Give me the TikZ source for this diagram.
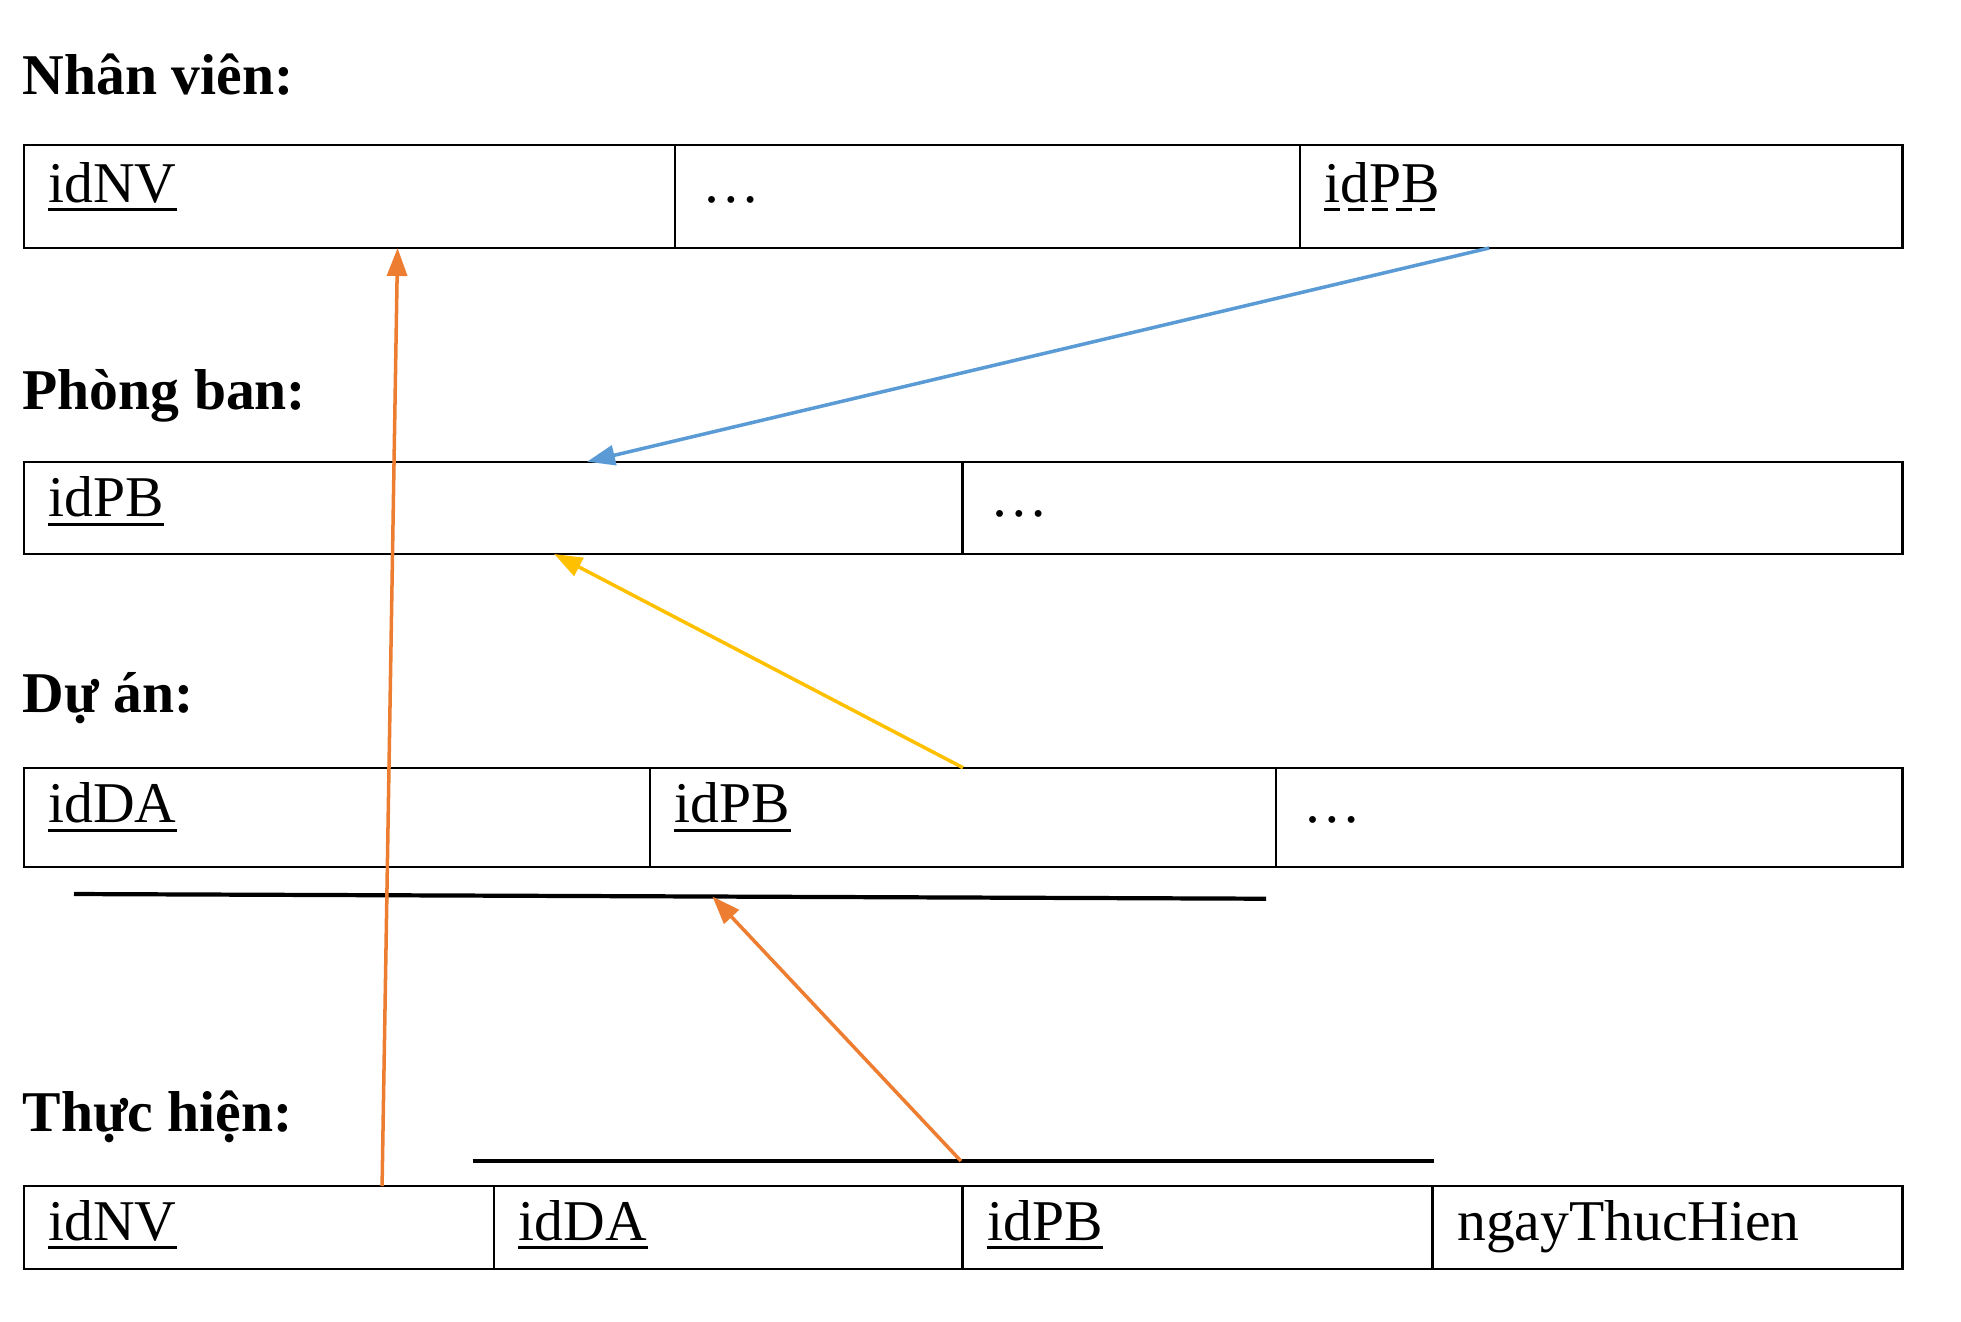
\documentclass[tikz,border=0pt]{standalone}
\usepackage{fontspec}
\setmainfont{Liberation Serif}
\usetikzlibrary{arrows.meta,calc}
\definecolor{fkblue}{HTML}{5B9BD5}
\definecolor{fkgold}{HTML}{FFC000}
\definecolor{fkorange}{HTML}{ED7D31}
\tikzset{
 cell/.style={draw, line width=0.65pt, anchor=north west, inner sep=0pt, outer sep=0pt},
 field/.style={anchor=base west, inner sep=0pt},
 title/.style={anchor=base west, inner sep=0pt, font=\fontsize{16.4}{20}\selectfont\bfseries},
 keyline/.style={line width=0.8pt},
 fk/.style={line width=1pt, -{Triangle[length=0.28cm, width=0.2cm]}},
 bar/.style={line width=1.2pt}
}
\begin{document}
\begin{tikzpicture}[font=\fontsize{16.4}{20}\selectfont]
 \useasboundingbox (0,0) rectangle (19.61,-13.21) ;

 \node[title] (nvtitle) at (0.22,-0.94) {Nhân viên:} ;
 \node[cell, minimum width=6.5125cm, minimum height=1.03cm] (nv1) at (0.2375,-1.45) {} ;
 \node[cell, minimum width=6.25cm, minimum height=1.03cm] (nv2) at (nv1.north east) {} ;
 \node[cell, minimum width=6.025cm, minimum height=1.03cm] (nv3) at (nv2.north east) {} ;
 \node[field] (nv1t) at ([xshift=0.24cm, yshift=-0.57cm] nv1.north west) {idNV} ;
 \node[field] (nv2t) at ([xshift=0.27cm, yshift=-0.57cm] nv2.north west) {\ldots} ;
 \node[field] (nv3t) at ([xshift=0.24cm, yshift=-0.57cm] nv3.north west) {idPB} ;

 \node[title] (pbtitle) at (0.22,-4.09) {Phòng ban:} ;
 \node[cell, minimum width=9.3875cm, minimum height=0.923cm] (pb1) at (0.2375,-4.617) {} ;
 \node[cell, minimum width=9.40cm, minimum height=0.923cm] (pb2) at (pb1.north east) {} ;
 \node[field] (pb1t) at ([xshift=0.24cm, yshift=-0.55cm] pb1.north west) {idPB} ;
 \node[field] (pb2t) at ([xshift=0.27cm, yshift=-0.55cm] pb2.north west) {\ldots} ;

 \node[title] (datitle) at (0.22,-7.125) {Dự án:} ;
 \node[cell, minimum width=6.2625cm, minimum height=0.99cm] (da1) at (0.2375,-7.677) {} ;
 \node[cell, minimum width=6.26cm, minimum height=0.99cm] (da2) at (da1.north east) {} ;
 \node[cell, minimum width=6.265cm, minimum height=0.99cm] (da3) at (da2.north east) {} ;
 \node[field] (da1t) at ([xshift=0.24cm, yshift=-0.55cm] da1.north west) {idDA} ;
 \node[field] (da2t) at ([xshift=0.24cm, yshift=-0.55cm] da2.north west) {idPB} ;
 \node[field] (da3t) at ([xshift=0.27cm, yshift=-0.55cm] da3.north west) {\ldots} ;

 \node[title] (thtitle) at (0.22,-11.31) {Thực hiện:} ;
 \node[cell, minimum width=4.7025cm, minimum height=0.827cm] (th1) at (0.2375,-11.86) {} ;
 \node[cell, minimum width=4.685cm, minimum height=0.827cm] (th2) at (th1.north east) {} ;
 \node[cell, minimum width=4.70cm, minimum height=0.827cm] (th3) at (th2.north east) {} ;
 \node[cell, minimum width=4.70cm, minimum height=0.827cm] (th4) at (th3.north east) {} ;
 \node[field] (th1t) at ([xshift=0.24cm, yshift=-0.54cm] th1.north west) {idNV} ;
 \node[field] (th2t) at ([xshift=0.24cm, yshift=-0.54cm] th2.north west) {idDA} ;
 \node[field] (th3t) at ([xshift=0.24cm, yshift=-0.54cm] th3.north west) {idPB} ;
 \node[field] (th4t) at ([xshift=0.24cm, yshift=-0.54cm] th4.north west) {ngayThucHien} ;

 \foreach \k in {nv1t,pb1t,da1t,da2t,th1t,th2t,th3t}
  \draw[keyline] ([yshift=-2.2pt]\k.base west) -- ([yshift=-2.2pt]\k.base east) ;
 \draw[keyline, dash pattern=on 4.5pt off 2.3pt] ([yshift=-2.2pt]nv3t.base west) -- ([yshift=-2.2pt]nv3t.base east) ;

 \coordinate (grpda1) at (0.74,-8.94) ;
 \coordinate (grpda2) at (12.66,-8.987) ;
 \coordinate (grpth1) at (4.725,-11.61) ;
 \coordinate (grpth2) at (14.34,-11.61) ;
 \draw[bar] (grpda1) -- (grpda2) ;
 \draw[bar] (grpth1) -- (grpth2) ;

 \draw[fk, fkblue] ($(nv3.south west)!0.314!(nv3.south east)$) -- ($(pb1.north west)!0.6!(pb1.north east)$) ;
 \draw[fk, fkgold] (da2.north) -- ($(pb1.south west)!0.565!(pb1.south east)$) ;
 \draw[fk, fkorange] ($(th1.north west)!0.762!(th1.north east)$) -- ($(nv1.south west)!0.574!(nv1.south east)$) ;
 \draw[fk, fkorange] ($(grpth1)!0.508!(grpth2)$) -- ($(grpda1)!0.5356!(grpda2)$) ;

\end{tikzpicture}
\end{document}
